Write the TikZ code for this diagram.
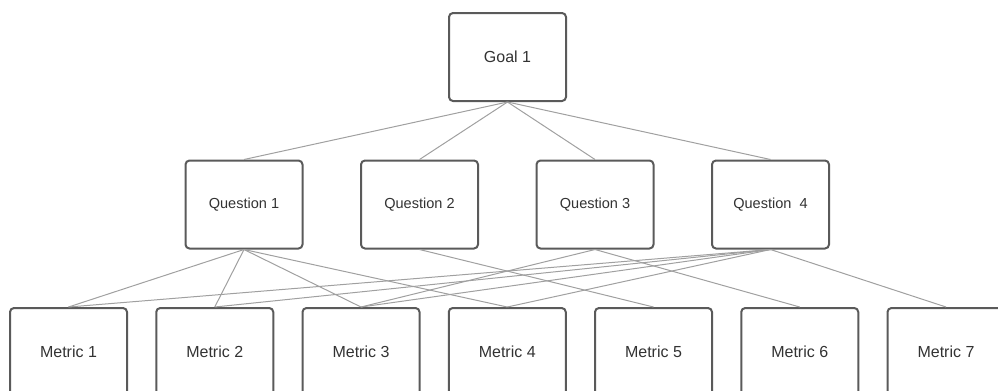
\documentclass[tikz,border=0pt]{standalone}
\usepackage{fontspec}
\setmainfont{Liberation Sans}
\definecolor{boxline}{HTML}{5A5A5A}
\definecolor{edgeline}{HTML}{A0A0A0}
\definecolor{boxtext}{HTML}{333333}
\begin{document}
\begin{tikzpicture}[x=0.75pt, y=-0.75pt,
  box/.style={draw=boxline, line width=1.5pt, rounded corners=3pt, fill=white,
    text=boxtext, minimum width=87.75pt, minimum height=66pt, inner sep=0pt},
  edge/.style={draw=edgeline, line width=0.75pt}]
  \useasboundingbox (0,0) rectangle (998,390);
  \clip (0,0) rectangle (998,390);
  % goal
  \node[box, font=\fontsize{12}{14}\selectfont] (goal) at (507.5,57) {Goal 1};
  % questions
  \foreach \i/\x in {1/244,2/419.5,3/595}
    \node[box, font=\fontsize{10.9}{13}\selectfont] (q\i) at (\x,204.5) {Question \i};
  \node[box, font=\fontsize{10.9}{13}\selectfont] (q4) at (770.5,204.5) {Question\ \ 4};
  % metrics
  \foreach \i in {1,...,7}
    \node[box, font=\fontsize{12}{14}\selectfont] (m\i) at ({68.5+146.25*(\i-1)},352) {Metric \i};
  % goal -- questions
  \foreach \q in {1,...,4}
    \draw[edge] (goal.south) -- (q\q.north);
  % questions -- metrics
  \foreach \m in {1,...,4}
    \draw[edge] (q1.south) -- (m\m.north);
  \draw[edge] (q2.south) -- (m5.north);
  \foreach \m in {3,6}
    \draw[edge] (q3.south) -- (m\m.north);
  \foreach \m in {1,2,3,4,7}
    \draw[edge] (q4.south) -- (m\m.north);
\end{tikzpicture}
\end{document}
